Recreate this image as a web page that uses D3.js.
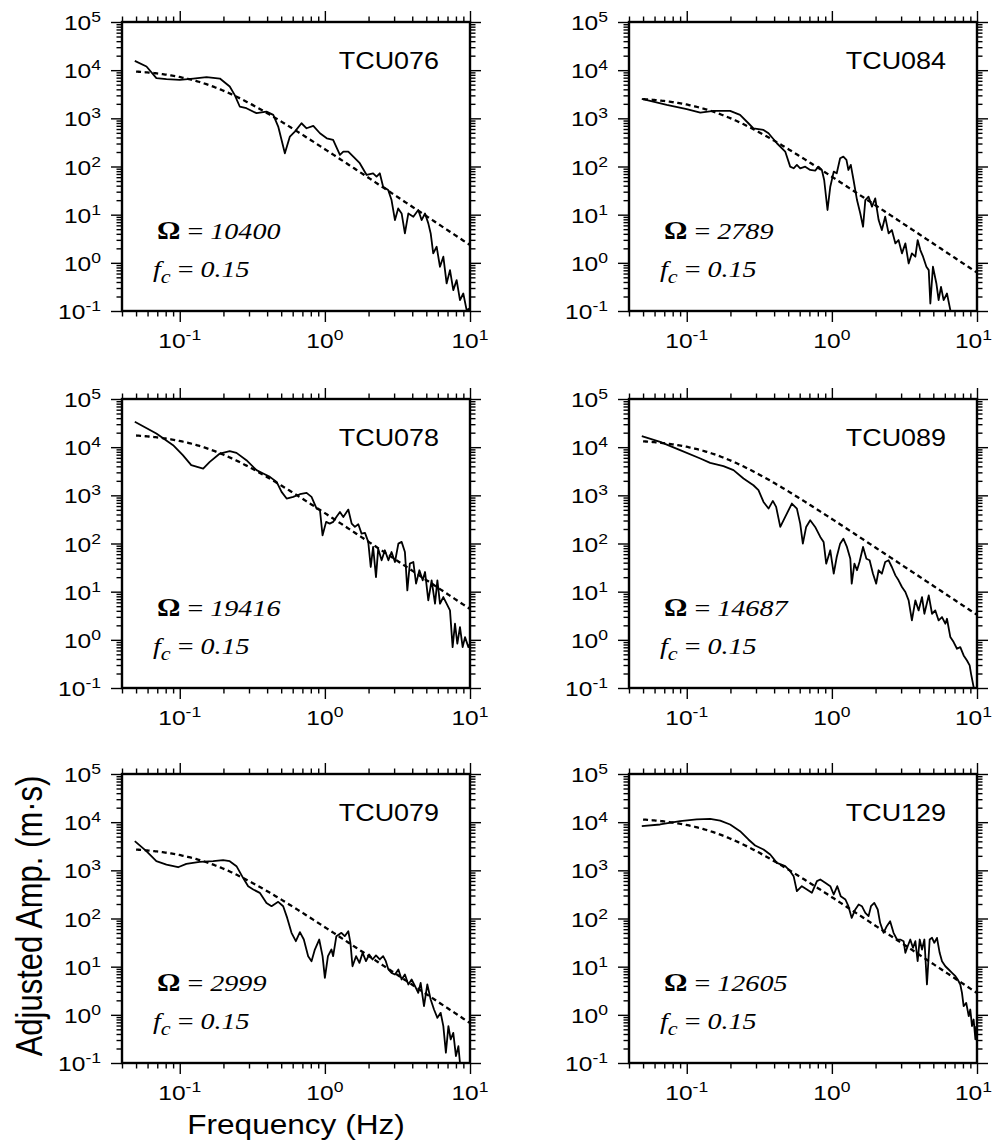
<!DOCTYPE html>
<html>
<head>
<meta charset="utf-8">
<script src="https://cdn.jsdelivr.net/npm/d3@7"></script>
<style>
  body { margin: 0; background: #fff; }
  svg { display: block; }
</style>
</head>
<body>
<svg id="chart" width="994" height="1147"></svg>
<script>
// ---- Station list, fitted source parameters ----
const stations = ["TCU076", "TCU084", "TCU078", "TCU089", "TCU079", "TCU129"];
const omegas = [10400, 2789, 19416, 14687, 2999, 12605];
const cornerFreqs = [0.15, 0.15, 0.15, 0.15, 0.15, 0.15];

// ---- Axis ticks ----
const xDecades = [0.1, 1, 10];
const xDecadeExp = ["-1", "0", "1"];
const yDecades = [0.1, 1, 10, 100, 1000, 10000, 100000];
const yDecadeExp = ["-1", "0", "1", "2", "3", "4", "5"];

// ---- Observed amplitude spectra: [frequency (Hz), amplitude (m·s)] ----
const spec076 = [
  [0.049,15600],[0.059,11900],[0.069,6820],[0.081,6500],[0.1,6300],[0.124,6700],[0.153,7160],
  [0.189,6700],[0.221,4570],[0.239,3070],[0.259,1760],[0.288,1620],[0.338,1280],[0.396,1380],
  [0.441,1180],[0.477,675],[0.53,188],[0.574,418],[0.621,531],[0.69,791],[0.748,622],[0.832,697],
  [0.925,490],[1.03,385],[1.14,356],[1.27,174],[1.34,204],[1.45,204],[1.57,160],[1.74,117],
  [1.94,66.7],[2.15,72.3],[2.27,61.5],[2.39,72.3],[2.52,38.1],[2.73,32.5],[2.88,20.1],[3.04,7.73],
  [3.2,13.5],[3.38,10.6],[3.56,4.08],[3.76,10.6],[4.07,9.08],[4.4,12.5],[4.64,7.73],[4.9,10.6],
  [5.16,6.59],[5.36,4.08],[5.58,1.57],[5.89,2.16],[6.21,0.83],[6.55,1.34],[6.9,0.373],[7.28,0.706],
  [7.67,0.271],[8.09,0.438],[8.53,0.168],[8.99,0.231],[9.48,0.104],[9.9,0.113]
];
const spec084 = [
  [0.049,2535],[0.0728,1900],[0.1,1545],[0.124,1318],[0.153,1428],[0.199,1428],[0.233,1178],
  [0.266,791],[0.288,622],[0.338,575],[0.366,490],[0.418,304],[0.477,204],[0.516,99.3],[0.545,91.7],
  [0.574,108],[0.605,91.7],[0.655,99.3],[0.709,84.7],[0.767,82],[0.809,99.3],[0.853,84.7],
  [0.885,52.5],[0.933,12.5],[0.975,38.1],[1.03,78.2],[1.08,72.3],[1.14,148],[1.2,160],[1.26,137],
  [1.3,84.7],[1.35,108],[1.41,52.5],[1.49,20.1],[1.57,10.6],[1.64,5.62],[1.7,20.1],[1.79,23.6],
  [1.89,14.7],[1.99,21.8],[2.1,7.73],[2.21,4.79],[2.33,9.08],[2.46,4.08],[2.59,4.79],[2.74,2.53],
  [2.88,2.97],[3.04,1.57],[3.21,2.53],[3.38,0.97],[3.56,1.57],[3.76,1.34],[3.9,2.97],[4.07,1.84],
  [4.25,1.34],[4.48,0.83],[4.65,0.706],[4.77,0.143],[4.97,0.83],[5.25,0.373],[5.44,0.168],
  [5.65,0.318],[5.89,0.168],[6.21,0.231],[6.55,0.104]
];
const spec078 = [
  [0.049,33700],[0.069,19200],[0.09,11000],[0.105,6820],[0.12,4230],[0.145,3600],[0.161,4950],
  [0.189,7380],[0.221,8260],[0.246,7620],[0.288,5370],[0.338,3330],[0.376,2840],[0.418,2420],
  [0.465,1900],[0.503,1180],[0.545,857],[0.605,927],[0.673,1054],[0.748,1124],[0.809,927],
  [0.877,531],[0.925,490],[0.964,148],[1.02,281],[1.08,259],[1.14,281],[1.2,356],[1.27,453],
  [1.34,356],[1.45,506],[1.53,259],[1.61,221],[1.7,251],[1.79,160],[1.89,166],[1.99,108],
  [2.07,32.5],[2.15,84.7],[2.25,20.1],[2.33,78.2],[2.46,44.8],[2.59,72.3],[2.74,44.8],[2.88,66.7],
  [3.04,41.3],[3.21,99.3],[3.38,108],[3.56,66.7],[3.7,10.6],[3.85,38.1],[4.07,41.3],[4.25,14.7],
  [4.48,27.8],[4.72,17.2],[4.9,25.6],[5.16,6.59],[5.44,17.2],[5.74,5.62],[5.96,17.2],[6.21,5.62],
  [6.55,7.73],[6.9,5.62],[7.28,4.08],[7.59,0.706],[7.88,2.16],[8.18,0.83],[8.53,1.84],[8.9,0.706],
  [9.24,1.14],[9.75,0.706],[10,0.83]
];
const spec089 = [
  [0.049,16900],[0.0655,12900],[0.09,8660],[0.124,5810],[0.145,4720],[0.179,4030],[0.21,3330],
  [0.246,2230],[0.288,1620],[0.312,1280],[0.338,730],[0.366,531],[0.392,766],[0.413,575],
  [0.441,221],[0.477,356],[0.53,675],[0.574,531],[0.605,259],[0.631,99.3],[0.665,221],[0.709,304],
  [0.767,221],[0.832,137],[0.877,108],[0.914,38.1],[0.975,72.3],[1.03,23.6],[1.08,52.5],[1.14,99.3],
  [1.2,126],[1.27,84.7],[1.34,48.4],[1.37,14.7],[1.43,38.1],[1.49,27.8],[1.55,41.3],[1.64,84.7],
  [1.73,48.4],[1.82,44.8],[1.92,23.6],[2.02,14.7],[2.1,27.8],[2.21,23.6],[2.33,41.3],[2.46,44.8],
  [2.59,32.5],[2.74,21.8],[2.88,17.2],[3.04,12.5],[3.21,9.82],[3.38,6.59],[3.56,2.53],[3.76,6.59],
  [3.96,4.08],[4.18,7.73],[4.34,3.48],[4.65,8.36],[4.9,3.48],[5.16,4.08],[5.44,2.53],[5.74,2.97],
  [6.05,2.16],[6.21,2.74],[6.55,1.14],[6.9,0.898],[7.28,0.652],[7.67,0.706],[8.09,0.474],
  [8.53,0.373],[8.9,0.294],[9.1,0.197],[9.48,0.104]
];
const spec079 = [
  [0.049,4040],[0.0589,2500],[0.069,1550],[0.081,1320],[0.0974,1160],[0.111,1360],[0.137,1500],
  [0.17,1550],[0.199,1630],[0.221,1550],[0.246,1220],[0.273,699],[0.296,469],[0.321,400],
  [0.356,341],[0.396,211],[0.429,180],[0.477,222],[0.516,180],[0.55,103],[0.589,50.4],[0.631,33.8],
  [0.673,52],[0.716,36.6],[0.767,16.5],[0.809,13],[0.853,22.7],[0.914,36.6],[0.964,16.5],[1.0,5.86],
  [1.05,16.5],[1.11,22.7],[1.14,16.5],[1.2,43],[1.3,50.4],[1.37,43],[1.45,54.6],[1.5,31.3],
  [1.55,10.2],[1.64,16.5],[1.73,12],[1.82,19.4],[1.92,13],[2.02,17.9],[2.13,14.1],[2.25,17.1],
  [2.39,14.1],[2.52,16.5],[2.63,13],[2.74,8.73],[2.88,7.44],[3.04,6.88],[3.21,8.73],[3.38,5.42],
  [3.56,6.88],[3.76,4.27],[3.96,5.42],[4.18,3.94],[4.4,2.86],[4.57,4.61],[4.82,1.51],[5.08,4.27],
  [5.36,2.08],[5.65,1.29],[5.96,0.867],[6.28,1.1],[6.55,0.582],[6.82,0.163],[7.1,0.582],
  [7.36,0.308],[7.67,0.423],[8.0,0.139],[8.32,0.223],[8.53,0.1]
];
const spec129 = [
  [0.049,8260],[0.0655,8950],[0.09,10500],[0.117,11400],[0.145,11700],[0.17,10800],[0.199,8950],
  [0.233,6500],[0.266,4370],[0.296,3280],[0.338,2710],[0.376,2130],[0.418,1430],[0.477,1220],
  [0.516,962],[0.545,757],[0.574,369],[0.621,469],[0.673,400],[0.728,341],[0.789,596],[0.832,646],
  [0.9,550],[0.975,469],[1.03,315],[1.09,469],[1.15,291],[1.24,248],[1.3,180],[1.37,103],
  [1.45,154],[1.53,195],[1.61,180],[1.7,131],[1.79,112],[1.86,180],[1.96,211],[2.07,154],
  [2.15,81.3],[2.27,50.4],[2.39,69.3],[2.52,88.1],[2.66,50.4],[2.81,36.6],[2.96,36.6],[3.12,33.8],
  [3.21,19.4],[3.33,26.6],[3.47,36.6],[3.62,24.6],[3.76,33.8],[3.9,13],[4.03,36.6],[4.18,22.7],
  [4.34,36.6],[4.52,4.27],[4.72,36.6],[4.9,39.7],[5.08,31.3],[5.3,39.7],[5.53,19.4],[5.74,13],
  [6.05,10.2],[6.38,8.73],[6.73,7.44],[7.1,6.35],[7.36,5.42],[7.67,4.27],[7.88,2.86],[8.09,1.51],
  [8.43,1.77],[8.77,0.938],[8.99,1.29],[9.24,0.582],[9.48,0.8],[9.75,0.308],[9.89,0.582]
];
const spectra = [spec076, spec084, spec078, spec089, spec079, spec129];

// ---- Layout ----
const pageW = 994, pageH = 1147;
const colLeft = [122, 629];
const rowTop = [22, 399, 774];
const plotW = 348, plotH = 289;
const xDomain = [0.04, 10];
const yDomain = [0.1, 1e5];
const stretch = 1.17;          // horizontal text widening
const sans = "'Liberation Sans', Arial, Helvetica, sans-serif";
const serif = "'Liberation Serif', 'Times New Roman', Times, serif";

const svg = d3.select("#chart");
svg.append("rect").attr("width", pageW).attr("height", pageH).attr("fill", "#fff");

// minor tick positions
const xMinor = [];
[0.01, 0.1, 1].forEach(d => { for (let k = 2; k <= 9; k++) { const v = d * k; if (v >= 0.0399 && v <= 10) xMinor.push(v); } });
const yMinor = [];
[0.1, 1, 10, 100, 1000, 10000].forEach(d => { for (let k = 2; k <= 9; k++) yMinor.push(d * k); });

// text helper with horizontal widening
function stretchedText(parent, x, y, rotate) {
  return parent.append("g")
    .attr("transform", `translate(${x},${y}) scale(${stretch},1)` + (rotate ? ` rotate(${rotate})` : ""))
    .append("text");
}

function powerLabel(parent, x, y, exp, anchor) {
  const t = stretchedText(parent, x, y)
    .attr("font-family", sans).attr("font-size", 21).attr("fill", "#000")
    .attr("text-anchor", anchor);
  t.append("tspan").text("10");
  t.append("tspan").attr("font-size", 15).attr("dy", -8).text(exp);
  // keep the label inside the page on the right
  const w = t.node().getComputedTextLength() * stretch;
  const right = anchor === "middle" ? x + w / 2 : x;
  if (right > pageW - 2) {
    d3.select(t.node().parentNode)
      .attr("transform", `translate(${x - (right - pageW + 2)},${y}) scale(${stretch},1)`);
  }
}

stations.forEach((name, i) => {
  const col = i % 2, row = Math.floor(i / 2);
  const x0 = colLeft[col], y0 = rowTop[row];
  const x = d3.scaleLog().domain(xDomain).range([x0, x0 + plotW]);
  const y = d3.scaleLog().domain(yDomain).range([y0 + plotH, y0]);
  const g = svg.append("g");

  const clipId = "clip" + i;
  g.append("clipPath").attr("id", clipId)
    .append("rect").attr("x", x0).attr("y", y0).attr("width", plotW).attr("height", plotH);

  // ticks on all four sides, pointing outward
  const axes = [
    [d3.axisBottom, x, `translate(0,${y0 + plotH})`, xDecades, xMinor],
    [d3.axisTop, x, `translate(0,${y0})`, xDecades, xMinor],
    [d3.axisLeft, y, `translate(${x0},0)`, yDecades, yMinor],
    [d3.axisRight, y, `translate(${x0 + plotW},0)`, yDecades, yMinor]
  ];
  axes.forEach(([fn, sc, tr, major, minor]) => {
    [[major, 11], [minor, 5.5]].forEach(([vals, len]) => {
      const a = g.append("g").attr("transform", tr)
        .call(fn(sc).tickValues(vals).tickSize(len).tickFormat(""));
      a.select(".domain").remove();
      a.selectAll("line").attr("stroke", "#000").attr("stroke-width", 1.4);
    });
  });

  // tick labels
  yDecades.forEach((v, k) => powerLabel(g, x0 - 21, y(v) + 8, yDecadeExp[k], "end"));
  xDecades.forEach((v, k) => powerLabel(g, x(v), y0 + plotH + 37, xDecadeExp[k], "middle"));

  // source model: Omega / (1 + (f/fc)^2)
  const omega = omegas[i], fc = cornerFreqs[i];
  const fModel = d3.range(0, 241).map(k => 0.05 * Math.pow(200, k / 240));
  const model = fModel.map(f => [f, omega / (1 + (f / fc) * (f / fc))]);

  const line = d3.line().x(d => x(d[0])).y(d => y(d[1]));
  const clipped = g.append("g").attr("clip-path", `url(#${clipId})`);

  clipped.append("path").datum(spectra[i]).attr("d", line)
    .attr("fill", "none").attr("stroke", "#000").attr("stroke-width", 1.8)
    .attr("stroke-linejoin", "round");

  clipped.append("path").datum(model).attr("d", line)
    .attr("fill", "none").attr("stroke", "#000").attr("stroke-width", 2.3)
    .attr("stroke-dasharray", "5,3.6");

  // frame
  g.append("rect").attr("x", x0).attr("y", y0).attr("width", plotW).attr("height", plotH)
    .attr("fill", "none").attr("stroke", "#000").attr("stroke-width", 2.4);

  // station name
  stretchedText(g, x0 + plotW - 31, y0 + 47)
    .attr("font-family", sans).attr("font-size", 23).attr("text-anchor", "end")
    .text(name);

  // parameters
  const t1 = stretchedText(g, x0 + 35, y0 + 217)
    .attr("font-family", serif).attr("font-size", 24);
  t1.append("tspan").attr("font-weight", "bold").attr("font-size", 25).text("Ω");
  t1.append("tspan").text(" = ");
  t1.append("tspan").attr("font-style", "italic").text(String(omega));

  const t2 = stretchedText(g, x0 + 31, y0 + 255)
    .attr("font-family", serif).attr("font-size", 24);
  t2.append("tspan").attr("font-style", "italic").text("f");
  t2.append("tspan").attr("font-style", "italic").attr("font-size", 19).attr("dy", 6).text("c");
  t2.append("tspan").attr("dy", -6).text(" = ");
  t2.append("tspan").attr("font-style", "italic").text(String(fc));
});

// axis titles
stretchedText(svg, 296, 1134)
  .attr("font-family", sans).attr("font-size", 27).attr("text-anchor", "middle")
  .text("Frequency (Hz)");

svg.append("g")
  .attr("transform", `translate(42,916) scale(${stretch},1) rotate(-90)`)
  .append("text")
  .attr("font-family", sans).attr("font-size", 31).attr("text-anchor", "middle")
  .text("Adjusted Amp. (m·s)");
</script>
</body>
</html>
